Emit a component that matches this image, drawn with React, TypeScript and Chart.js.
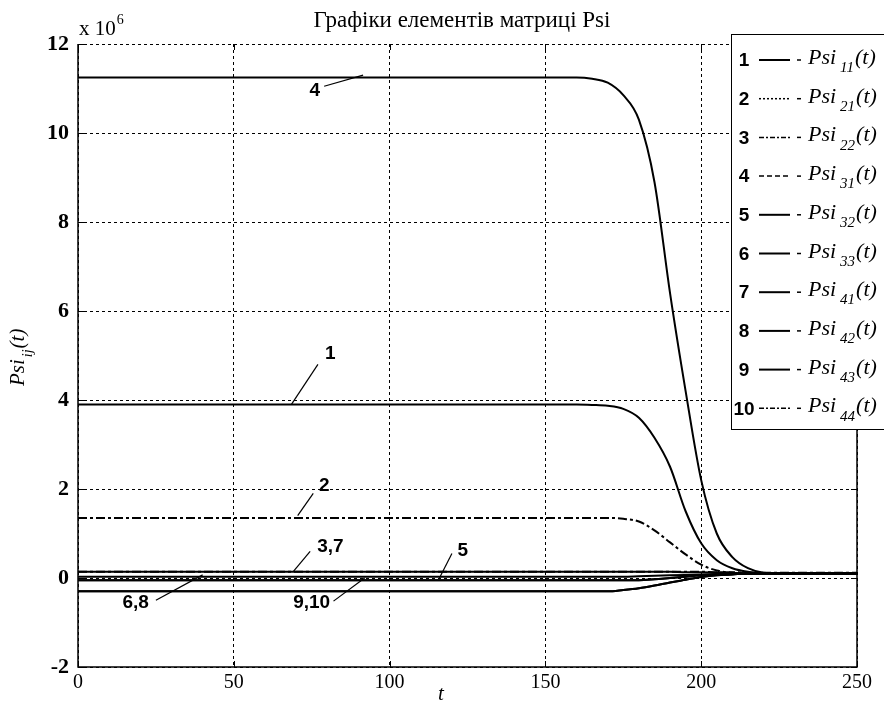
import React, { useEffect, useRef } from "react";
import { Chart, registerables } from "chart.js";

Chart.register(...registerables);

const W = 884;
const H = 714;

const titleText = "Графіки елементів матриці Psi";
const xTicks = [0, 50, 100, 150, 200, 250];
const yTicks = [-2, 0, 2, 4, 6, 8, 10, 12];

// time samples
const tValues = [0, 160, 165, 170, 175, 180, 185, 190, 195, 200, 205, 210, 215, 220, 230, 250];
// values in units of 1e6
const psi11 = [3.9, 3.9, 3.89, 3.87, 3.8, 3.6, 3.15, 2.5, 1.5, 0.78, 0.4, 0.22, 0.14, 0.11, 0.1, 0.1];
const psi21 = [1.35, 1.35, 1.35, 1.35, 1.33, 1.27, 1.07, 0.8, 0.53, 0.3, 0.17, 0.12, 0.1, 0.1, 0.1, 0.1];
const psi22 = [0.14, 0.14, 0.14, 0.14, 0.14, 0.14, 0.14, 0.14, 0.14, 0.14, 0.13, 0.13, 0.12, 0.12, 0.12, 0.12];
const psi31 = [11.25, 11.25, 11.22, 11.13, 10.85, 10.3, 8.9, 6.4, 4.2, 2.2, 1.0, 0.47, 0.22, 0.12, 0.1, 0.1];
const psi32 = [0.03, 0.03, 0.03, 0.03, 0.03, 0.04, 0.05, 0.06, 0.07, 0.08, 0.09, 0.1, 0.1, 0.1, 0.1, 0.1];
const psi33 = [-0.05, -0.05, -0.05, -0.05, -0.05, -0.05, -0.03, 0.0, 0.03, 0.06, 0.08, 0.09, 0.1, 0.1, 0.1, 0.1];
const psi41 = [0.14, 0.14, 0.14, 0.14, 0.14, 0.14, 0.14, 0.14, 0.13, 0.13, 0.12, 0.11, 0.1, 0.1, 0.1, 0.1];
const psi42 = [-0.05, -0.05, -0.05, -0.05, -0.05, -0.05, -0.03, 0.0, 0.03, 0.06, 0.08, 0.09, 0.1, 0.1, 0.1, 0.1];
const psi43 = [-0.3, -0.3, -0.3, -0.3, -0.27, -0.23, -0.17, -0.1, -0.04, 0.02, 0.06, 0.08, 0.1, 0.1, 0.1, 0.1];
const psi44 = [-0.3, -0.3, -0.3, -0.3, -0.27, -0.23, -0.17, -0.1, -0.04, 0.02, 0.06, 0.08, 0.1, 0.1, 0.1, 0.1];

const seriesNums = ["1", "2", "3", "4", "5", "6", "7", "8", "9", "10"];
const seriesSubs = ["11", "21", "22", "31", "32", "33", "41", "42", "43", "44"];
const seriesValues = [psi11, psi21, psi22, psi31, psi32, psi33, psi41, psi42, psi43, psi44];
const plotDash: number[][] = [[], [9, 3, 3, 3], [9, 3, 3, 3], [], [], [], [], [], [], []];
const legendDash: number[][] = [[], [2, 2], [5, 2, 2, 2], [5, 3], [], [], [], [], [], [5, 2, 2, 2]];

// curve labels: text, text center, leader line from/to (in data units)
const curveLabels = [
  { text: "4", tx: 76, ty: 10.95, x1: 79, y1: 11.05, x2: 91.5, y2: 11.3 },
  { text: "1", tx: 81, ty: 5.05, x1: 77, y1: 4.8, x2: 68.5, y2: 3.9 },
  { text: "2", tx: 79, ty: 2.08, x1: 75.5, y1: 1.9, x2: 70.5, y2: 1.4 },
  { text: "3,7", tx: 81, ty: 0.7, x1: 74.5, y1: 0.6, x2: 69, y2: 0.14 },
  { text: "5", tx: 123.5, ty: 0.62, x1: 120, y1: 0.55, x2: 116, y2: 0.0 },
  { text: "6,8", tx: 18.5, ty: -0.55, x1: 25, y1: -0.5, x2: 40, y2: 0.07 },
  { text: "9,10", tx: 75, ty: -0.55, x1: 82, y1: -0.52, x2: 92, y2: 0.0 },
];

function drawSub(ctx: CanvasRenderingContext2D, x: number, y: number, main: string, sub: string, tail: string, size: number, subSize: number, gap: number) {
  ctx.textAlign = "left";
  ctx.textBaseline = "alphabetic";
  ctx.font = `italic ${size}px "Liberation Serif", serif`;
  ctx.fillText(main, x, y);
  let cx = x + ctx.measureText(main).width + gap;
  ctx.font = `italic ${subSize}px "Liberation Serif", serif`;
  ctx.fillText(sub, cx, y + subSize * 0.55);
  cx += ctx.measureText(sub).width + 1;
  ctx.font = `italic ${size}px "Liberation Serif", serif`;
  ctx.fillText(tail, cx, y);
}

const decorPlugin = {
  id: "decor",
  afterDatasetsDraw(chart: any) {
    const ctx: CanvasRenderingContext2D = chart.ctx;
    const { left, right, top, bottom } = chart.chartArea;
    const xs = chart.scales.x;
    const ys = chart.scales.y;
    ctx.save();
    // frame
    ctx.strokeStyle = "#000";
    ctx.lineWidth = 1.5;
    ctx.setLineDash([]);
    ctx.beginPath();
    ctx.moveTo(left, top);
    ctx.lineTo(left, bottom);
    ctx.lineTo(right, bottom);
    ctx.lineTo(right, top);
    ctx.stroke();
    // inward ticks
    ctx.lineWidth = 1;
    ctx.beginPath();
    for (const v of xTicks) {
      const px = Math.round(xs.getPixelForValue(v)) + 0.5;
      ctx.moveTo(px, bottom);
      ctx.lineTo(px, bottom - 6);
      ctx.moveTo(px, top);
      ctx.lineTo(px, top + 6);
    }
    for (const v of yTicks) {
      const py = Math.round(ys.getPixelForValue(v)) + 0.5;
      ctx.moveTo(left, py);
      ctx.lineTo(left + 6, py);
      ctx.moveTo(right, py);
      ctx.lineTo(right - 6, py);
    }
    ctx.stroke();
    // curve labels
    ctx.fillStyle = "#000";
    ctx.font = `bold 19px "Liberation Sans", Arial, sans-serif`;
    ctx.textAlign = "center";
    ctx.textBaseline = "middle";
    ctx.lineWidth = 1.2;
    for (const l of curveLabels) {
      ctx.fillText(l.text, xs.getPixelForValue(l.tx), ys.getPixelForValue(l.ty));
      ctx.beginPath();
      ctx.moveTo(xs.getPixelForValue(l.x1), ys.getPixelForValue(l.y1));
      ctx.lineTo(xs.getPixelForValue(l.x2), ys.getPixelForValue(l.y2));
      ctx.stroke();
    }
    // legend
    const lx = 731.5, ly = 34.5, lw = 160, lh = 395;
    ctx.fillStyle = "#fff";
    ctx.fillRect(lx, ly, lw, lh);
    ctx.strokeStyle = "#000";
    ctx.lineWidth = 1;
    ctx.strokeRect(lx, ly, lw, lh);
    ctx.fillStyle = "#000";
    for (let i = 0; i < seriesNums.length; i++) {
      const cy = 60 + i * 38.7;
      ctx.font = `bold 19px "Liberation Sans", Arial, sans-serif`;
      ctx.textAlign = "center";
      ctx.textBaseline = "middle";
      ctx.fillText(seriesNums[i], 744, cy + 1);
      ctx.beginPath();
      ctx.setLineDash(legendDash[i]);
      ctx.lineWidth = legendDash[i].length ? 1.5 : 2;
      ctx.moveTo(759, cy);
      ctx.lineTo(790, cy);
      ctx.stroke();
      ctx.setLineDash([]);
      ctx.lineWidth = 1.5;
      ctx.beginPath();
      ctx.moveTo(797, cy);
      ctx.lineTo(801, cy);
      ctx.stroke();
      drawSub(ctx, 808, cy + 4, "Psi", seriesSubs[i], "(t)", 22, 15, 4);
    }
    ctx.restore();
  },
  afterDraw(chart: any) {
    const ctx: CanvasRenderingContext2D = chart.ctx;
    const { left } = chart.chartArea;
    ctx.save();
    ctx.fillStyle = "#000";
    // title
    ctx.font = `23px "Liberation Serif", serif`;
    ctx.textAlign = "center";
    ctx.textBaseline = "alphabetic";
    ctx.fillText(titleText, 462, 27);
    // exponent
    ctx.textAlign = "left";
    ctx.font = `21px "Liberation Serif", serif`;
    ctx.fillText("x 10", left + 1, 35);
    const w = ctx.measureText("x 10").width;
    ctx.font = `14px "Liberation Serif", serif`;
    ctx.fillText("6", left + 2 + w, 24);
    // x title
    ctx.font = `italic 21px "Liberation Serif", serif`;
    ctx.textAlign = "center";
    ctx.fillText("t", 441, 700);
    // y title (rotated)
    ctx.translate(24, 386);
    ctx.rotate(-Math.PI / 2);
    drawSub(ctx, 0, 0, "Psi", "ij", "(t)", 21, 14, 2);
    ctx.restore();
  },
};

export default function App() {
  const ref = useRef<HTMLCanvasElement | null>(null);
  useEffect(() => {
    if (!ref.current) return;
    const datasets = seriesValues.map((vals, i) => ({
      label: "Psi" + seriesSubs[i],
      data: tValues.map((t, k) => ({ x: t, y: vals[k] })),
      borderColor: "#000",
      borderWidth: 2,
      borderDash: plotDash[i],
      pointRadius: 0,
      fill: false,
      cubicInterpolationMode: "monotone" as const,
    }));
    const chart = new Chart(ref.current, {
      type: "line",
      data: { datasets },
      options: {
        animation: false,
        responsive: false,
        devicePixelRatio: 1,
        layout: { padding: { top: 44, right: 27, left: 0, bottom: 0 } },
        plugins: { legend: { display: false }, tooltip: { enabled: false }, title: { display: false } },
        scales: {
          x: {
            type: "linear",
            min: 0,
            max: 250,
            afterBuildTicks: (s: any) => { s.ticks = xTicks.map((v) => ({ value: v })); },
            afterFit: (s: any) => { s.height = 47; },
            grid: { color: "#000", lineWidth: 1, drawTicks: false },
            border: { display: false, dash: [3, 3] },
            ticks: {
              color: "#000",
              padding: 4,
              maxRotation: 0,
              font: { family: "'Liberation Serif', serif", size: 20 },
              callback: (v: any) => String(v),
            },
          },
          y: {
            type: "linear",
            min: -2,
            max: 12,
            afterBuildTicks: (s: any) => { s.ticks = yTicks.map((v) => ({ value: v })); },
            afterFit: (s: any) => { s.width = 78; },
            grid: { color: "#000", lineWidth: 1, drawTicks: false },
            border: { display: false, dash: [3, 3] },
            ticks: {
              color: "#000",
              padding: 9,
              font: { family: "'Liberation Serif', serif", size: 22, weight: "bold" },
              callback: (v: any) => String(v),
            },
          },
        },
      },
      plugins: [decorPlugin],
    });
    return () => chart.destroy();
  }, []);
  return (
    <div style={{ position: "absolute", left: 0, top: 0, width: W, height: H, background: "#fff" }}>
      <canvas ref={ref} width={W} height={H} style={{ width: W, height: H, display: "block" }} />
    </div>
  );
}
